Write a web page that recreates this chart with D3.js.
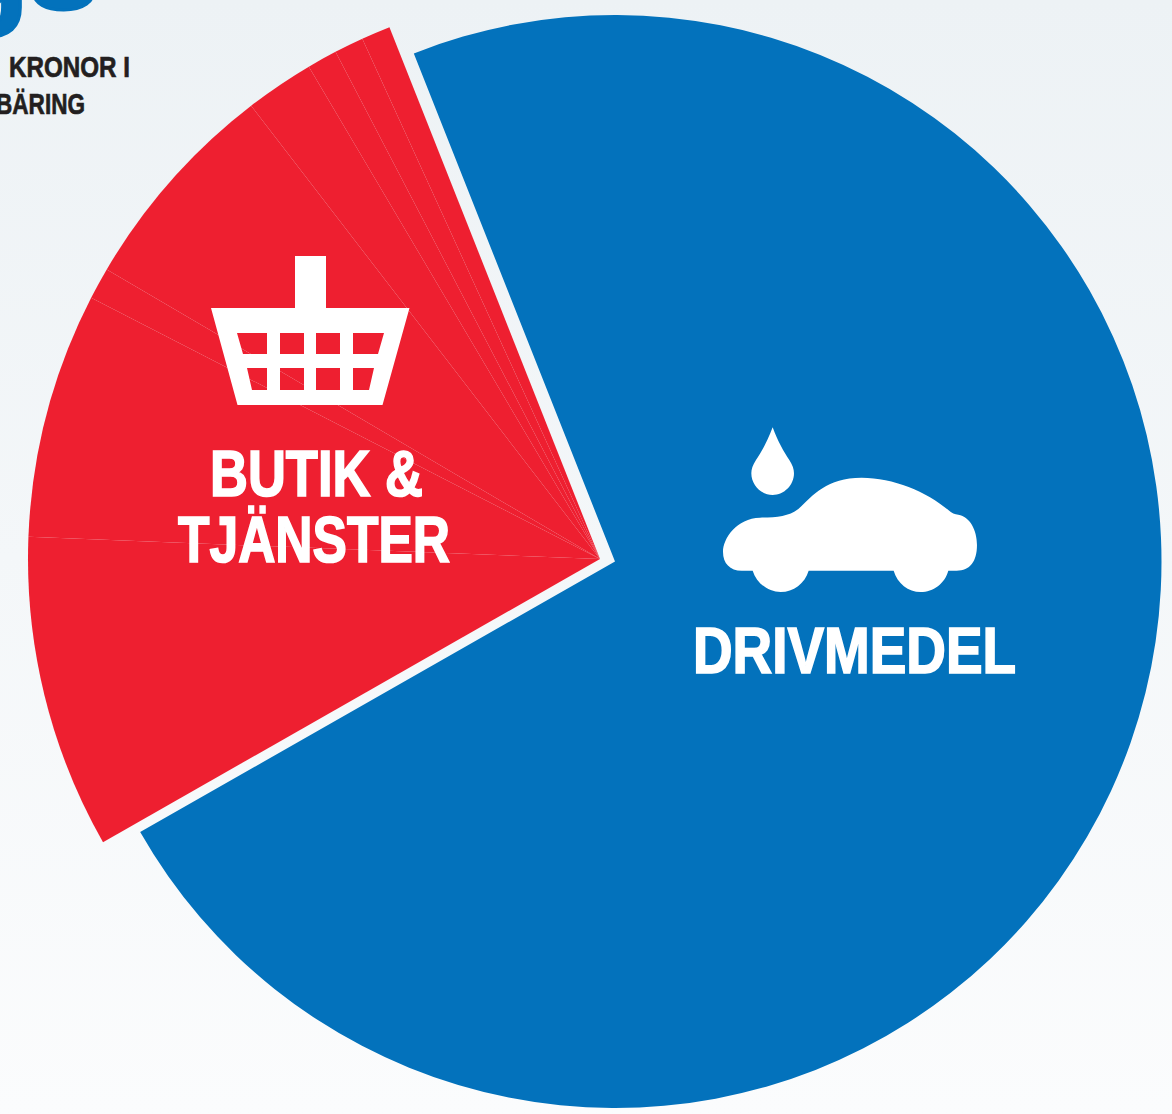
<!DOCTYPE html>
<html>
<head>
<meta charset="utf-8">
<script src="https://cdn.jsdelivr.net/npm/d3@7"></script>
<style>
  html, body { margin: 0; padding: 0; background: #f5f8fa; overflow: hidden; }
  svg { display: block; }
  text { font-family: "Liberation Sans", sans-serif; font-weight: 700; }
  .slice-label { fill: #fff; stroke: #fff; stroke-width: 1.7px; font-size: 64px; text-anchor: middle; }
  .note { fill: #231f20; stroke: #231f20; stroke-width: 0.7px; font-size: 30px; text-anchor: end; }
  .headline { fill: #0372bc; stroke: #0372bc; stroke-width: 3px; font-size: 130px; letter-spacing: -2px; }
</style>
</head>
<body>
<svg width="1172" height="1114"></svg>
<script>
// share of the whole circle in percent
const sliceGroups = ['drivmedel', 'butik', 'butik', 'butik', 'butik', 'butik', 'butik', 'butik', 'butik'];
const sliceValues = [72.75, 8.86, 6.93, 0.9, 6.11, 1.94, 0.85, 0.83, 0.82];

const labelLines = ['DRIVMEDEL', 'BUTIK &', 'TJÄNSTER'];
const noteLines = ['KRONOR I', 'BÄRING'];
const headlineText = 'gs';

const groupColor = { drivmedel: '#0372bc', butik: '#ee1f30' };

const width = 1172;
const height = 1114;
const svg = d3.select('svg');

const defs = svg.append('defs');
const bg = defs.append('linearGradient')
    .attr('id', 'bg')
    .attr('x1', 0).attr('y1', 0)
    .attr('x2', 0).attr('y2', 1);
bg.append('stop').attr('offset', '0%').attr('stop-color', '#edf2f5');
bg.append('stop').attr('offset', '100%').attr('stop-color', '#fbfcfd');

svg.append('rect')
    .attr('width', width)
    .attr('height', height)
    .attr('fill', 'url(#bg)');

// the blue part sits a little off from the red one, and the red one is bigger
const center = { drivmedel: [615, 561.5], butik: [600, 559] };
const radius = { drivmedel: 546.5, butik: 572 };

const pie = d3.pie()
    .sort(null)
    .startAngle(-21.6 * Math.PI / 180)
    .endAngle((360 - 21.6) * Math.PI / 180);

const arcs = pie(sliceValues);

svg.append('g')
    .selectAll('path')
    .data(arcs)
    .join('path')
    .attr('transform', (d, i) => `translate(${center[sliceGroups[i]]})`)
    .attr('d', (d, i) => d3.arc().innerRadius(0).outerRadius(radius[sliceGroups[i]])(d))
    .attr('fill', (d, i) => groupColor[sliceGroups[i]]);

// headline and note, both run off the edge of the picture
svg.append('text')
    .attr('class', 'headline')
    .attr('x', -50)
    .attr('y', 9)
    .text(headlineText);

svg.append('text').attr('class', 'note')
    .attr('x', 130).attr('y', 76.5)
    .attr('textLength', 121).attr('lengthAdjust', 'spacingAndGlyphs')
    .text(noteLines[0]);
svg.append('text').attr('class', 'note')
    .attr('x', 85).attr('y', 113.5)
    .attr('textLength', 89).attr('lengthAdjust', 'spacingAndGlyphs')
    .text(noteLines[1]);

// basket icon
const basket = svg.append('g').attr('fill', '#fff');
basket.append('path')
    .attr('fill-rule', 'evenodd')
    .attr('d', 'M295,256H326V308H409.5L382.5,405H237.5L211,308H295Z'
        + 'M237,333H267V354H243Z M280,333H304V354H280Z M316,333H340V354H316Z M353,333H384L378,354H353Z'
        + 'M247,368H267V390H252Z M280,368H304V390H280Z M316,368H340V390H316Z M353,368H374L369,390H353Z');

// car and drop icon
const car = svg.append('g')
    .attr('transform', 'translate(680,410) scale(0.3333)')
    .attr('fill', '#fff');
car.append('path')
    .attr('d', 'M278,52C262,95 245,125 228,150C218,165 214,178 214,190C214,225 243,255 278,255'
        + 'C313,255 342,225 342,190C342,178 338,165 328,150C311,125 294,95 278,52Z');
car.append('path')
    .attr('d', 'M218,482L185,482C150,482 129,460 129,425C129,385 170,325 240,323C290,322 325,320 355,297'
        + 'C400,255 440,203 545,203C640,203 740,245 805,300C815,310 825,313 835,314C870,320 891,360 891,405'
        + 'C891,455 870,482 830,482L805,482C795,520 760,546 722,546C685,546 652,520 641,482L386,482'
        + 'C375,520 340,546 302,546C265,546 230,520 218,482Z');

// labels
const labelX = [854.5, 316.5, 314];
const labelY = [672.7, 495.7, 561.7];
const labelW = [323, 213, 272];
svg.append('g')
    .selectAll('text')
    .data(labelLines)
    .join('text')
    .attr('class', 'slice-label')
    .attr('x', (d, i) => labelX[i])
    .attr('y', (d, i) => labelY[i])
    .attr('textLength', (d, i) => labelW[i])
    .attr('lengthAdjust', 'spacingAndGlyphs')
    .text(d => d);
</script>
</body>
</html>
